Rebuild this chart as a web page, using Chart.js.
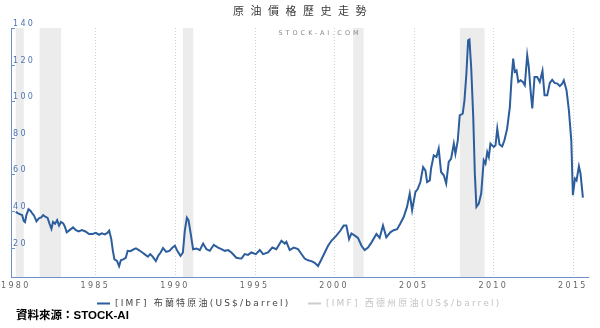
<!DOCTYPE html>
<html><head><meta charset="utf-8">
<script src="https://cdn.jsdelivr.net/npm/chart.js@4/dist/chart.umd.min.js"></script>
<style>html,body{margin:0;padding:0;background:#fff;overflow:hidden}</style>
</head><body>
<canvas id="c" width="600" height="328"></canvas>
<script>
const chartTitle = '原油價格歷史走勢';
const watermark = 'STOCK-AI.COM';
const sourceNote = '資料來源：STOCK-AI';
const seriesNames = ['[IMF] 布蘭特原油(US$/barrel)', '[IMF] 西德州原油(US$/barrel)'];
const xTicks = [1980, 1985, 1990, 1995, 2000, 2005, 2010, 2015];
const yTicks = [20, 40, 60, 80, 100, 120, 140];
const recessionStart = [1980.0, 1981.5, 1990.5, 2001.2, 2007.9];
const recessionEnd = [1980.5, 1982.85, 1991.15, 2001.85, 2009.45];
const years = [
 1980.00,1980.12,1980.25,1980.40,1980.50,1980.58,1980.66,1980.80,1980.92,1981.05,1981.15,1981.30,1981.45,1981.60,1981.72,1981.88,
 1982.00,1982.12,1982.24,1982.34,1982.47,1982.60,1982.72,1982.84,1982.98,1983.08,1983.20,1983.38,1983.60,1983.78,1983.95,1984.15,
 1984.38,1984.60,1984.82,1985.03,1985.23,1985.40,1985.60,1985.75,1985.87,1986.00,1986.10,1986.20,1986.36,1986.49,1986.60,1986.75,
 1986.91,1987.03,1987.20,1987.40,1987.55,1987.75,1987.95,1988.15,1988.30,1988.45,1988.60,1988.80,1988.95,1989.10,1989.25,1989.45,
 1989.65,1989.85,1990.00,1990.15,1990.35,1990.50,1990.62,1990.75,1990.85,1990.97,1991.14,1991.35,1991.56,1991.77,1991.98,1992.19,
 1992.44,1992.71,1992.92,1993.13,1993.34,1993.55,1993.86,1994.02,1994.18,1994.38,1994.59,1994.80,1995.08,1995.33,1995.54,1995.85,
 1996.12,1996.37,1996.69,1996.90,1997.00,1997.21,1997.46,1997.73,1997.88,1998.15,1998.36,1998.57,1998.78,1998.99,1999.20,1999.41,
 1999.62,1999.83,2000.14,2000.40,2000.60,2000.77,2000.94,2001.09,2001.30,2001.50,2001.72,2001.92,2002.13,2002.34,2002.66,2002.86,
 2003.07,2003.28,2003.53,2003.74,2003.96,2004.16,2004.37,2004.58,2004.75,2004.90,2005.11,2005.25,2005.42,2005.59,2005.74,2005.84,
 2006.01,2006.09,2006.26,2006.43,2006.57,2006.72,2006.89,2007.04,2007.20,2007.35,2007.52,2007.62,2007.77,2007.89,2008.08,2008.19,
 2008.31,2008.42,2008.50,2008.61,2008.74,2008.84,2008.94,2009.09,2009.24,2009.40,2009.51,2009.62,2009.72,2009.82,2010.03,2010.14,
 2010.25,2010.39,2010.56,2010.70,2010.87,2011.04,2011.14,2011.25,2011.35,2011.46,2011.57,2011.71,2011.86,2011.98,2012.13,2012.23,
 2012.34,2012.45,2012.59,2012.76,2012.92,2013.09,2013.22,2013.39,2013.55,2013.70,2013.85,2014.02,2014.18,2014.33,2014.43,2014.60,
 2014.75,2014.90,2015.00,2015.13,2015.23,2015.38,2015.48,2015.63
];
const brent = [
 39.5,38.8,38.3,37.8,34.5,33.9,37.5,41.0,40.2,38.5,37.4,34.3,36.0,36.5,37.7,36.7,
 36.2,33.0,30.2,34.0,33.0,35.0,32.0,34.0,33.2,31.5,28.3,29.5,31.0,29.5,28.8,29.5,
 28.8,27.4,27.4,28.0,27.0,27.8,27.2,28.0,29.2,24.6,18.2,13.5,12.7,9.8,13.0,13.5,
 14.4,18.2,18.0,19.0,19.6,18.5,17.3,16.0,15.0,16.4,15.0,12.6,15.5,17.3,19.7,17.6,
 18.2,20.0,21.0,18.2,15.4,17.3,29.3,36.3,35.0,28.7,19.1,19.5,18.6,22.2,19.1,18.2,
 21.5,20.0,19.1,18.2,18.6,17.3,14.4,14.1,14.0,16.4,16.0,17.3,16.4,18.6,16.4,17.3,
 20.0,19.1,23.7,22.2,23.1,18.6,20.0,19.1,17.3,14.0,13.0,12.6,11.7,9.9,13.5,17.3,
 21.0,23.7,26.5,29.3,32.0,32.0,24.6,27.7,26.5,25.3,21.0,18.6,20.0,22.7,27.4,25.3,
 32.0,25.6,28.3,29.5,30.0,33.1,36.7,42.2,49.5,40.4,50.4,52.0,55.8,64.0,62.0,55.8,
 56.7,63.2,70.4,69.5,74.1,61.3,59.5,55.0,66.8,68.6,76.8,71.3,78.6,92.3,93.2,100.5,
 115.0,133.3,133.7,118.7,91.4,60.4,42.2,44.0,49.5,67.7,65.9,72.2,69.5,76.8,75.0,75.9,
 85.0,76.3,75.3,78.6,85.0,96.8,111.4,123.3,116.0,116.8,110.5,111.4,110.5,108.7,125.1,118.7,
 106.0,96.0,113.2,113.2,110.5,116.5,103.2,103.2,110.0,111.7,110.0,109.6,108.2,109.6,111.4,106.0,
 95.0,78.6,48.6,57.7,56.7,64.4,60.4,47.3
];

const AXIS_BLUE = '#6f8fc6';

// recession bands + dotted vertical grid, drawn before the scales so labels sit on top
const bandsPlugin = {
  id: 'bands',
  beforeDraw(chart) {
    const {ctx, chartArea, scales: {x}} = chart;
    ctx.save();
    ctx.fillStyle = '#ececec';
    for (let i = 0; i < recessionStart.length; i++) {
      const a = x.getPixelForValue(recessionStart[i]);
      const b = x.getPixelForValue(recessionEnd[i]);
      ctx.fillRect(a, chartArea.top, b - a, chartArea.bottom - chartArea.top);
    }
    ctx.strokeStyle = '#d2d2d2';
    ctx.lineWidth = 1;
    ctx.setLineDash([1, 2]);
    x.ticks.forEach(t => {
      if (t.value === xTicks[0]) return;
      const px = Math.round(x.getPixelForValue(t.value)) + 0.5;
      ctx.beginPath(); ctx.moveTo(px, chartArea.top); ctx.lineTo(px, chartArea.bottom); ctx.stroke();
    });
    ctx.restore();
    chart.ctx.letterSpacing = '2.3px';
  },
  afterDraw(chart) { chart.ctx.letterSpacing = '0px'; }
};

const decorPlugin = {
  id: 'decor',
  afterDraw(chart) {
    const {ctx, chartArea, scales: {y}} = chart;
    ctx.save();
    ctx.strokeStyle = AXIS_BLUE; ctx.lineWidth = 1; ctx.setLineDash([]);
    y.ticks.forEach(t => {
      const py = Math.round(y.getPixelForValue(t.value)) + 0.5;
      ctx.beginPath(); ctx.moveTo(chartArea.left, py); ctx.lineTo(chartArea.left + 4, py); ctx.stroke();
    });
    ctx.textBaseline = 'middle';
    ctx.textAlign = 'center';
    ctx.letterSpacing = '6.5px';
    ctx.fillStyle = '#3a3a3a';
    ctx.font = '11px "Noto Sans CJK TC", "Noto Sans", sans-serif';
    ctx.fillText(chartTitle, 303, 11);
    ctx.letterSpacing = '3px';
    ctx.fillStyle = '#8a8a8a';
    ctx.font = '6.5px "DejaVu Sans", sans-serif';
    ctx.fillText(watermark, 320, 33);
    ctx.textAlign = 'left';
    ctx.letterSpacing = '2.2px';
    ctx.font = '9px "DejaVu Sans", "Noto Sans CJK TC", sans-serif';
    const legendX = [97, 308];
    chart.data.datasets.forEach((ds, i) => {
      const hidden = !chart.isDatasetVisible(i);
      const lx = legendX[i], ly = 303.5;
      ctx.strokeStyle = hidden ? '#cccccc' : ds.borderColor;
      ctx.lineWidth = 2;
      ctx.beginPath(); ctx.moveTo(lx, ly); ctx.lineTo(lx + 13, ly); ctx.stroke();
      ctx.fillStyle = hidden ? '#c4c4c4' : '#444444';
      ctx.fillText(ds.label, lx + 18, ly);
    });
    ctx.letterSpacing = '0px';
    ctx.fillStyle = '#000';
    ctx.font = 'bold 11.5px "Liberation Sans", "Noto Sans CJK TC", sans-serif';
    ctx.fillText(sourceNote, 16, 316);
    ctx.restore();
  }
};

new Chart(document.getElementById('c'), {
  type: 'line',
  data: {
    datasets: [
      {
        label: seriesNames[0],
        data: years.map((yr, i) => ({x: yr, y: brent[i]})),
        borderColor: '#2c5d9c',
        borderWidth: 2,
        pointRadius: 0,
        tension: 0,
        fill: false
      },
      {
        label: seriesNames[1],
        data: [],
        hidden: true,
        borderColor: '#cccccc',
        borderWidth: 2,
        pointRadius: 0
      }
    ]
  },
  options: {
    responsive: false,
    animation: false,
    layout: {padding: {top: 28, left: 11, right: 12, bottom: 37}},
    plugins: {legend: {display: false}, tooltip: {enabled: false}, title: {display: false}},
    scales: {
      x: {
        type: 'linear',
        min: 1979.7,
        max: 2015.95,
        afterBuildTicks: axis => { axis.ticks = xTicks.map(v => ({value: v})); },
        afterFit: axis => { axis.height = 14; axis.paddingLeft = 0; axis.paddingRight = 0; },
        ticks: {
          callback: v => String(v),
          color: '#666',
          font: {family: '"DejaVu Sans"', size: 8},
          padding: 4,
          maxRotation: 0,
          autoSkip: false
        },
        grid: {display: false, drawTicks: false},
        border: {display: true, color: AXIS_BLUE, width: 1}
      },
      y: {
        min: 3.9,
        max: 140,
        afterBuildTicks: axis => { axis.ticks = yTicks.map(v => ({value: v})); },
        afterFit: axis => { axis.width = 0; axis.paddingTop = 0; axis.paddingBottom = 0; },
        ticks: {
          mirror: true,
          padding: 2,
          labelOffset: -4,
          color: '#4d74b3',
          font: {family: '"DejaVu Sans"', size: 8}
        },
        grid: {drawOnChartArea: false, drawTicks: false},
        border: {display: true, color: AXIS_BLUE, width: 1}
      }
    }
  },
  plugins: [bandsPlugin, decorPlugin]
});
</script>
</body></html>
